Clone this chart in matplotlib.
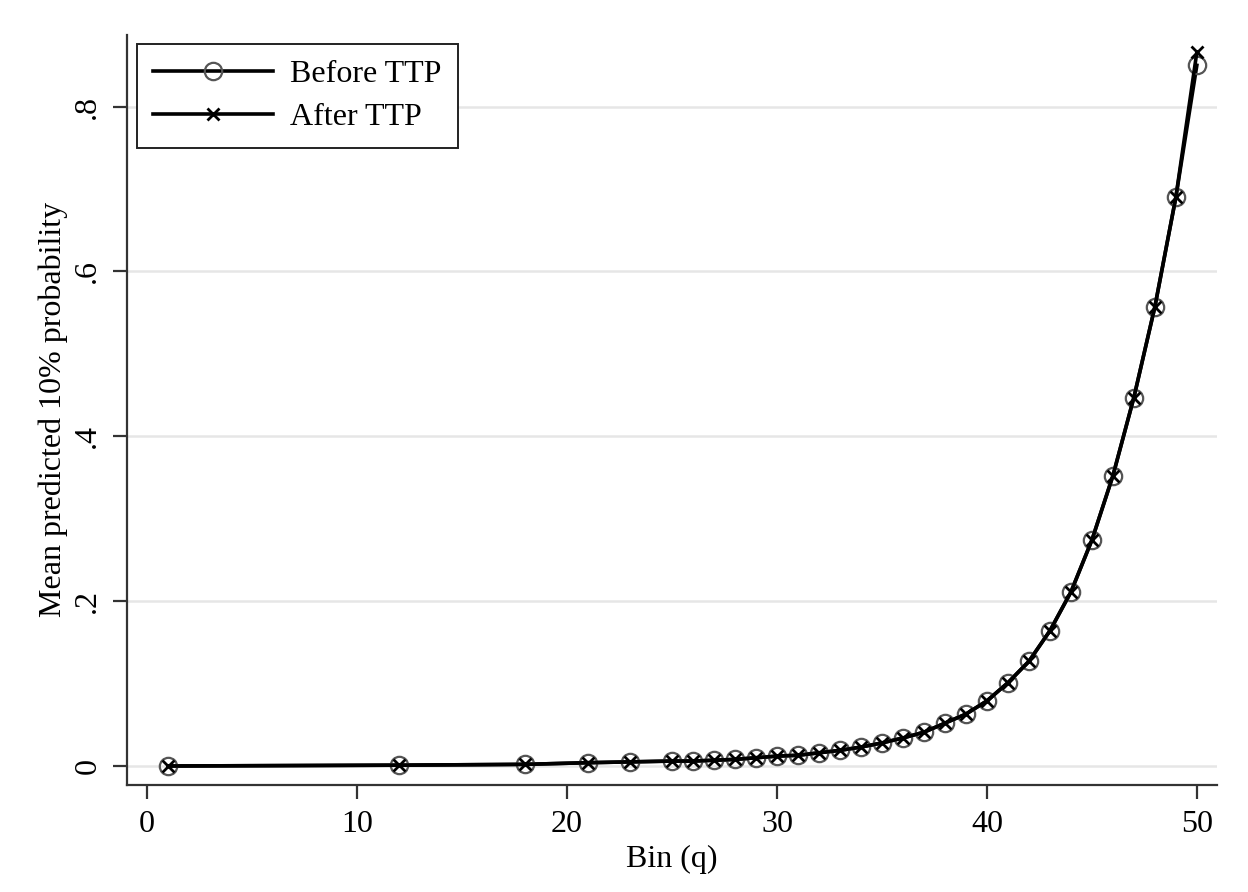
import numpy as np
import matplotlib
matplotlib.use("Agg")
import matplotlib.pyplot as plt

# bins and mean predicted probabilities
bins = [1, 12, 18, 21, 23, 25, 26, 27, 28, 29, 30, 31, 32, 33, 34, 35, 36, 37,
        38, 39, 40, 41, 42, 43, 44, 45, 46, 47, 48, 49, 50]
before_ttp = [0.000, 0.001, 0.002, 0.004, 0.005, 0.006, 0.006, 0.007, 0.008, 0.010,
              0.012, 0.013, 0.016, 0.019, 0.023, 0.028, 0.034, 0.041, 0.052, 0.063,
              0.079, 0.101, 0.127, 0.164, 0.211, 0.274, 0.352, 0.447, 0.557, 0.690,
              0.850]
after_ttp = [0.000, 0.001, 0.002, 0.004, 0.005, 0.006, 0.006, 0.007, 0.008, 0.010,
             0.012, 0.013, 0.016, 0.019, 0.023, 0.028, 0.034, 0.041, 0.052, 0.063,
             0.079, 0.101, 0.127, 0.164, 0.211, 0.274, 0.352, 0.447, 0.557, 0.690,
             0.866]
x_ticks = [0, 10, 20, 30, 40, 50]
y_ticks = [0, 0.2, 0.4, 0.6, 0.8]
y_ticklabels = ["0", ".2", ".4", ".6", ".8"]

plt.rcParams['font.family'] = ['Liberation Serif', 'DejaVu Serif']
plt.rcParams['font.size'] = 23

fig = plt.figure(figsize=(12.48, 8.92), dpi=100)
ax = fig.add_axes([0.102, 0.12, 0.873, 0.841])

ax.plot(bins, before_ttp, color='black', lw=2.6, marker='o', ms=12.5,
        mfc='none', mec='#555555', mew=1.6, label='Before TTP', zorder=3)
ax.plot(bins, after_ttp, color='black', lw=2.6, marker='x', ms=8,
        mec='black', mew=2.0, label='After TTP', zorder=4)

ax.set_xlim(-0.95, 50.95)
ax.set_ylim(-0.023, 0.887)
ax.set_xticks(x_ticks)
ax.set_yticks(y_ticks)
ax.set_yticklabels(y_ticklabels, rotation=90, va='center')
ax.yaxis.grid(True, color='#e6e6e6', lw=1.8)
ax.set_axisbelow(True)

for side in ['top', 'right']:
    ax.spines[side].set_visible(False)
for side in ['left', 'bottom']:
    ax.spines[side].set_linewidth(1.6)
    ax.spines[side].set_color('#333333')
ax.tick_params(direction='out', length=10, width=1.6, color='#333333', pad=8)

ax.set_xlabel('Bin (q)', labelpad=4)
ax.set_ylabel('Mean predicted 10% probability', labelpad=4)

leg = ax.legend(loc='upper left', bbox_to_anchor=(0.009, 0.988), borderaxespad=0,
                fancybox=False, edgecolor='#222222', framealpha=1,
                handlelength=3.75, handletextpad=0.55,
                borderpad=0.5, labelspacing=0.42, fontsize=23)
leg.get_frame().set_linewidth(1.4)

fig.savefig('out.png', dpi=100)
